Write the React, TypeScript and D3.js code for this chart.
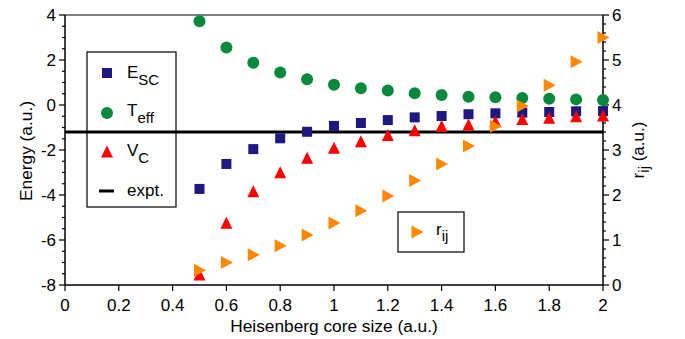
import React from "react";
import * as d3 from "d3";

const coreSize = [0.5, 0.6, 0.7, 0.8, 0.9, 1.0, 1.1, 1.2, 1.3, 1.4, 1.5, 1.6, 1.7, 1.8, 1.9, 2.0];
const eSC = [-3.73, -2.62, -1.96, -1.48, -1.19, -0.93, -0.8, -0.67, -0.55, -0.49, -0.41, -0.37, -0.34, -0.31, -0.28, -0.27];
const tEff = [3.72, 2.56, 1.88, 1.44, 1.14, 0.9, 0.74, 0.64, 0.52, 0.44, 0.37, 0.34, 0.31, 0.28, 0.25, 0.22];
const vC = [-7.56, -5.26, -3.85, -3.01, -2.37, -1.92, -1.63, -1.36, -1.14, -0.96, -0.89, -0.74, -0.64, -0.59, -0.52, -0.49];
const rij = [0.33, 0.5, 0.67, 0.87, 1.11, 1.38, 1.65, 1.98, 2.32, 2.69, 3.09, 3.53, 3.98, 4.44, 4.96, 5.5];
const expt = -1.2;

const xTicks = [0, 0.2, 0.4, 0.6, 0.8, 1, 1.2, 1.4, 1.6, 1.8, 2];
const yTicks = [-8, -6, -4, -2, 0, 2, 4];
const y2Ticks = [0, 1, 2, 3, 4, 5, 6];

const NAVY = "#1f1882";
const GREEN = "#078a3c";
const RED = "#ff0000";
const ORANGE = "#ff8800";
const FONT = "'Liberation Sans', Arial, sans-serif";

const L = 65, R = 603, T = 15, B = 285;

const sq = (cx: number, cy: number, color: string, key?: any) => (
  <rect key={key} x={cx - 5} y={cy - 5} width={10} height={10} fill={color} />
);
const circ = (cx: number, cy: number, color: string, key?: any) => (
  <circle key={key} cx={cx} cy={cy} r={6} fill={color} />
);
const triUp = (cx: number, cy: number, color: string, key?: any) => (
  <path key={key} d={`M${cx - 6},${cy + 5.5}L${cx + 6},${cy + 5.5}L${cx},${cy - 6.5}Z`} fill={color} />
);
const triRight = (cx: number, cy: number, color: string, key?: any) => (
  <path key={key} d={`M${cx - 5.5},${cy - 6.5}L${cx - 5.5},${cy + 6.5}L${cx + 6.5},${cy}Z`} fill={color} />
);

export default function App() {
  const x = d3.scaleLinear().domain([0, 2]).range([L, R]);
  const y = d3.scaleLinear().domain([-8, 4]).range([B, T]);
  const y2 = d3.scaleLinear().domain([0, 6]).range([B, T]);

  const yMinor = d3.range(-8, 4.001, 0.5).filter((v) => Math.abs(v % 2) > 1e-6);
  const y2Minor = d3.range(0, 6.001, 0.2).filter((v) => Math.abs(v - Math.round(v)) > 1e-6);

  return (
    <svg width={685} height={339} style={{ position: "absolute", left: 0, top: 0 }} fontFamily={FONT}>
      <rect x={0} y={0} width={685} height={339} fill="#fff" />
      {/* expt line */}
      <line x1={L} x2={R} y1={y(expt)} y2={y(expt)} stroke="#000" strokeWidth={3} />

      {/* frame */}
      <line x1={L} x2={R} y1={T} y2={T} stroke="#000" strokeWidth={1.2} />
      <line x1={L} x2={R} y1={B} y2={B} stroke="#000" strokeWidth={1.5} />
      <line x1={L} x2={L} y1={T} y2={B} stroke="#000" strokeWidth={1.5} />
      <line x1={R} x2={R} y1={T} y2={B} stroke="#000" strokeWidth={1.5} />

      {/* x axis */}
      {xTicks.map((t) => (
        <g key={"x" + t}>
          <line x1={x(t)} x2={x(t)} y1={B} y2={B + 6} stroke="#000" strokeWidth={1.2} />
          <text x={x(t)} y={311} textAnchor="middle" fontSize={17}>{t}</text>
        </g>
      ))}
      <text x={(L + R) / 2 + 0} y={332} textAnchor="middle" fontSize={17.3}>Heisenberg core size (a.u.)</text>

      {/* left axis */}
      {yTicks.map((t) => (
        <g key={"y" + t}>
          <line x1={L - 6} x2={L} y1={y(t)} y2={y(t)} stroke="#000" strokeWidth={1.2} />
          <text x={56} y={y(t) + 6} textAnchor="end" fontSize={17}>{t}</text>
        </g>
      ))}
      {yMinor.map((t) => (
        <line key={"ym" + t} x1={L - 3} x2={L} y1={y(t)} y2={y(t)} stroke="#000" strokeWidth={1.2} />
      ))}
      <text transform={`translate(31.5,${(T + B) / 2 + 1}) rotate(-90)`} textAnchor="middle" fontSize={17.3}>Energy (a.u.)</text>

      {/* right axis */}
      {y2Ticks.map((t) => (
        <g key={"y2" + t}>
          <line x1={R} x2={R + 6} y1={y2(t)} y2={y2(t)} stroke="#000" strokeWidth={1.2} />
          <text x={612} y={y2(t) + 6} textAnchor="start" fontSize={17}>{t}</text>
        </g>
      ))}
      {y2Minor.map((t) => (
        <line key={"y2m" + t} x1={R} x2={R + 3} y1={y2(t)} y2={y2(t)} stroke="#000" strokeWidth={1.2} />
      ))}
      <text transform={`translate(644,${(T + B) / 2}) rotate(-90)`} textAnchor="middle" fontSize={17}>
        r<tspan fontSize={15} dy={5}>ij</tspan><tspan dy={-5}> (a.u.)</tspan>
      </text>

      {/* data */}
      {coreSize.map((c, i) => sq(x(c), y(eSC[i]), NAVY, "e" + i))}
      {coreSize.map((c, i) => circ(x(c), y(tEff[i]), GREEN, "t" + i))}
      {coreSize.map((c, i) => triUp(x(c), y(vC[i]), RED, "v" + i))}
      {coreSize.map((c, i) => triRight(x(c), y2(rij[i]), ORANGE, "r" + i))}

      {/* legend 1 */}
      <rect x={87} y={52} width={89} height={155} fill="none" stroke="#000" strokeWidth={1.2} />
      {sq(107, 73, NAVY)}
      <text x={127} y={78} fontSize={17}>E<tspan fontSize={15} dy={7}>SC</tspan></text>
      {circ(107, 113, GREEN)}
      <text x={127} y={116} fontSize={17}>T<tspan fontSize={15} dy={7}>eff</tspan></text>
      {triUp(107, 152, RED)}
      <text x={127} y={156} fontSize={17}>V<tspan fontSize={15} dy={7}>C</tspan></text>
      <line x1={99} x2={114} y1={191} y2={191} stroke="#000" strokeWidth={3} />
      <text x={127} y={196} fontSize={17}>expt.</text>

      {/* legend 2 */}
      <rect x={398} y={212} width={66} height={40} fill="none" stroke="#000" strokeWidth={1.2} />
      {triRight(417, 232, ORANGE)}
      <text x={436} y={235} fontSize={17}>r<tspan fontSize={15} dy={6}>ij</tspan></text>
    </svg>
  );
}
